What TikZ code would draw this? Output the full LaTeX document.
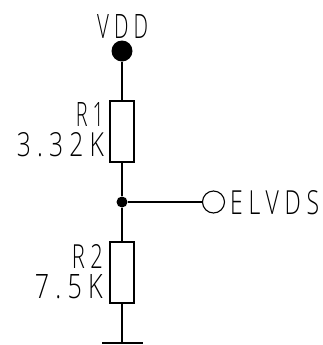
\documentclass[tikz,border=0pt]{standalone}
\usepackage{fontspec}
\setmainfont{Open Sans Light}[LetterSpace=25]
\usepackage{tikz}
\begin{document}
\begin{tikzpicture}[x=1bp,y=-1bp]
	\tikzset{wire/.style={line width=1.1bp}}
	\tikzset{res/.style={draw,line width=1.1bp,minimum width=24bp,minimum height=61bp,inner sep=0pt}}
	\tikzset{dot/.style={circle,fill=black,inner sep=0pt}}
	\tikzset{lbl/.style={inner sep=0pt,font=\fontsize{33}{33}\selectfont}}
	\newcommand{\lbltext}[2]{\resizebox{#1bp}{24bp}{#2}}
	\useasboundingbox (0,0) rectangle (323,345);
	\node[dot,minimum size=21bp] (vdd) at (122,51) {};
	\node[res] (r1) at (122,131.5) {};
	\node[dot,minimum size=11bp] (mid) at (122,202) {};
	\node[res] (r2) at (122,272.5) {};
	\node[circle,draw,line width=1.1bp,minimum size=22bp,inner sep=0pt] (out) at (213.5,202) {};
	\coordinate (gnd) at (122,343);
	\coordinate (gl) at (102,343);
	\coordinate (gr) at (143,343);
	\draw[wire] (vdd) -- (r1);
	\draw[wire] (r1) -- (mid);
	\draw[wire] (mid) -- (r2);
	\draw[wire] (r2) -- (gnd);
	\draw[wire] (mid) -- (out);
	\draw[wire] (gl) -- (gr);
	\node[lbl,anchor=base west] (vddt) at (97,38) {\lbltext{51}{VDD}};
	\node[lbl,anchor=base east] (r1t) at (104,126) {\lbltext{28}{R1}};
	\node[lbl,anchor=base east] (r1v) at (104,156) {\lbltext{87}{3.32K}};
	\node[lbl,anchor=base east] (r2t) at (103,268) {\lbltext{31}{R2}};
	\node[lbl,anchor=base east] (r2v) at (103,298) {\lbltext{68}{7.5K}};
	\node[lbl,anchor=base west] (outt) at (230,214) {\lbltext{89}{ELVDS}};
\end{tikzpicture}
\end{document}
